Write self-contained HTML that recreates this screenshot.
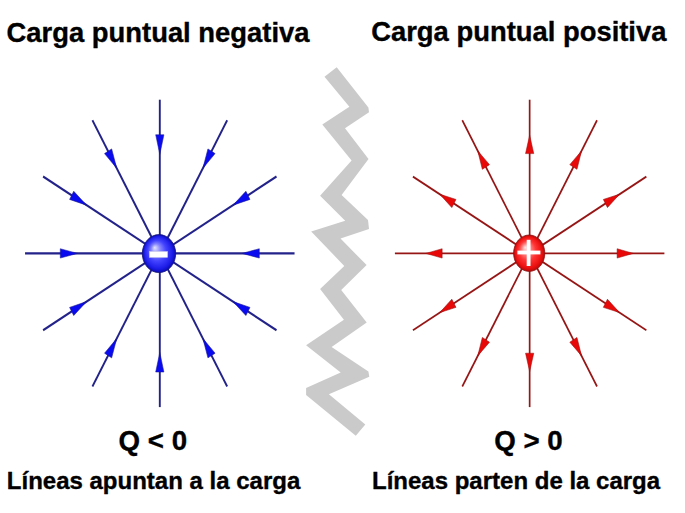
<!DOCTYPE html>
<html><head><meta charset="utf-8"><style>
html,body{margin:0;padding:0;background:#fff;}
svg{display:block;}
text{font-family:"Liberation Sans",sans-serif;font-weight:bold;fill:#000;stroke:#000;stroke-width:0.35px;}
</style></head><body>
<svg width="685" height="513" viewBox="0 0 685 513">
<defs>
<radialGradient id="gb" cx="0.5" cy="0.5" r="0.5" fx="0.37" fy="0.34" gradientUnits="objectBoundingBox">
<stop offset="0" stop-color="#e4e4ff"/>
<stop offset="0.28" stop-color="#8484ff"/>
<stop offset="0.55" stop-color="#4242ff"/>
<stop offset="0.85" stop-color="#1c1ce8"/>
<stop offset="1" stop-color="#0a0ab0"/>
</radialGradient>
<radialGradient id="gr" cx="0.5" cy="0.5" r="0.5" fx="0.37" fy="0.34" gradientUnits="objectBoundingBox">
<stop offset="0" stop-color="#ffe4e4"/>
<stop offset="0.28" stop-color="#ff8484"/>
<stop offset="0.55" stop-color="#ff3434"/>
<stop offset="0.85" stop-color="#ec1010"/>
<stop offset="1" stop-color="#b80808"/>
</radialGradient>
</defs>
<rect width="685" height="513" fill="#fff"/>
<polygon points="324.5,76.8 349.4,106.8 322.3,124.5 351.6,160.4 320.1,195.7 345.2,220.7 311.2,231.6 344.3,265.9 320.1,288.9 343.9,319.8 306.1,345.3 340.7,372.6 306.1,388 306.1,395 355.8,435.8 365.3,424.6 328.9,394.2 369.3,376.7 368.4,371.4 331.6,347 366.7,322.5 341.2,290 366.6,265.1 340.5,238.6 369,229 368,220 341.6,194.9 368.5,159 345,128.2 369,112.2 368.4,107.5 336.7,67.3" fill="#cacaca"/>
<g transform="translate(159.8,253.4) scale(1,1.1406)">
<g transform="rotate(0)">
<line x1="0" y1="0" x2="134.75" y2="0" stroke="#22228a" stroke-width="1.9" />
<polygon points="82.3,0 99.5,-4.1 99.5,4.1" fill="#0a0af0" stroke="#1a1a90" stroke-width="0.5" stroke-linejoin="miter"/>
</g>
<g transform="rotate(-30)">
<line x1="0" y1="0" x2="134.75" y2="0" stroke="#22228a" stroke-width="1.9" />
<polygon points="84.55,0 101.75,-4.1 101.75,4.1" fill="#0a0af0" stroke="#1a1a90" stroke-width="0.5" stroke-linejoin="miter"/>
</g>
<g transform="rotate(-60)">
<line x1="0" y1="0" x2="134.75" y2="0" stroke="#22228a" stroke-width="1.9" />
<polygon points="86.19711431702997,0 103.39711431702997,-4.1 103.39711431702997,4.1" fill="#0a0af0" stroke="#1a1a90" stroke-width="0.5" stroke-linejoin="miter"/>
</g>
<g transform="rotate(-90)">
<line x1="0" y1="0" x2="134.75" y2="0" stroke="#22228a" stroke-width="1.9" />
<polygon points="86.8,0 104.0,-4.1 104.0,4.1" fill="#0a0af0" stroke="#1a1a90" stroke-width="0.5" stroke-linejoin="miter"/>
</g>
<g transform="rotate(-120)">
<line x1="0" y1="0" x2="134.75" y2="0" stroke="#22228a" stroke-width="1.9" />
<polygon points="86.19711431702997,0 103.39711431702997,-4.1 103.39711431702997,4.1" fill="#0a0af0" stroke="#1a1a90" stroke-width="0.5" stroke-linejoin="miter"/>
</g>
<g transform="rotate(-150)">
<line x1="0" y1="0" x2="134.75" y2="0" stroke="#22228a" stroke-width="1.9" />
<polygon points="84.55,0 101.75,-4.1 101.75,4.1" fill="#0a0af0" stroke="#1a1a90" stroke-width="0.5" stroke-linejoin="miter"/>
</g>
<g transform="rotate(-180)">
<line x1="0" y1="0" x2="134.75" y2="0" stroke="#22228a" stroke-width="1.9" />
<polygon points="82.3,0 99.5,-4.1 99.5,4.1" fill="#0a0af0" stroke="#1a1a90" stroke-width="0.5" stroke-linejoin="miter"/>
</g>
<g transform="rotate(-210)">
<line x1="0" y1="0" x2="134.75" y2="0" stroke="#22228a" stroke-width="1.9" />
<polygon points="84.55,0 101.75,-4.1 101.75,4.1" fill="#0a0af0" stroke="#1a1a90" stroke-width="0.5" stroke-linejoin="miter"/>
</g>
<g transform="rotate(-240)">
<line x1="0" y1="0" x2="134.75" y2="0" stroke="#22228a" stroke-width="1.9" />
<polygon points="86.19711431702997,0 103.39711431702997,-4.1 103.39711431702997,4.1" fill="#0a0af0" stroke="#1a1a90" stroke-width="0.5" stroke-linejoin="miter"/>
</g>
<g transform="rotate(-270)">
<line x1="0" y1="0" x2="134.75" y2="0" stroke="#22228a" stroke-width="1.9" />
<polygon points="86.8,0 104.0,-4.1 104.0,4.1" fill="#0a0af0" stroke="#1a1a90" stroke-width="0.5" stroke-linejoin="miter"/>
</g>
<g transform="rotate(-300)">
<line x1="0" y1="0" x2="134.75" y2="0" stroke="#22228a" stroke-width="1.9" />
<polygon points="86.19711431702997,0 103.39711431702997,-4.1 103.39711431702997,4.1" fill="#0a0af0" stroke="#1a1a90" stroke-width="0.5" stroke-linejoin="miter"/>
</g>
<g transform="rotate(-330)">
<line x1="0" y1="0" x2="134.75" y2="0" stroke="#22228a" stroke-width="1.9" />
<polygon points="84.55,0 101.75,-4.1 101.75,4.1" fill="#0a0af0" stroke="#1a1a90" stroke-width="0.5" stroke-linejoin="miter"/>
</g>
</g>
<g transform="translate(529.65,253.4) scale(1,1.1406)">
<g transform="rotate(0)">
<line x1="0" y1="0" x2="134.75" y2="0" stroke="#961616" stroke-width="1.7" />
<polygon points="103.7,0 87.5,-4.1 87.5,4.1" fill="#e80808" stroke="#9a1010" stroke-width="0.5" stroke-linejoin="miter"/>
</g>
<g transform="rotate(-30)">
<line x1="0" y1="0" x2="134.75" y2="0" stroke="#961616" stroke-width="1.7" />
<polygon points="103.7,0 87.5,-4.1 87.5,4.1" fill="#e80808" stroke="#9a1010" stroke-width="0.5" stroke-linejoin="miter"/>
</g>
<g transform="rotate(-60)">
<line x1="0" y1="0" x2="134.75" y2="0" stroke="#961616" stroke-width="1.7" />
<polygon points="103.7,0 87.5,-4.1 87.5,4.1" fill="#e80808" stroke="#9a1010" stroke-width="0.5" stroke-linejoin="miter"/>
</g>
<g transform="rotate(-90)">
<line x1="0" y1="0" x2="134.75" y2="0" stroke="#961616" stroke-width="1.7" />
<polygon points="103.7,0 87.5,-4.1 87.5,4.1" fill="#e80808" stroke="#9a1010" stroke-width="0.5" stroke-linejoin="miter"/>
</g>
<g transform="rotate(-120)">
<line x1="0" y1="0" x2="134.75" y2="0" stroke="#961616" stroke-width="1.7" />
<polygon points="103.7,0 87.5,-4.1 87.5,4.1" fill="#e80808" stroke="#9a1010" stroke-width="0.5" stroke-linejoin="miter"/>
</g>
<g transform="rotate(-150)">
<line x1="0" y1="0" x2="134.75" y2="0" stroke="#961616" stroke-width="1.7" />
<polygon points="103.7,0 87.5,-4.1 87.5,4.1" fill="#e80808" stroke="#9a1010" stroke-width="0.5" stroke-linejoin="miter"/>
</g>
<g transform="rotate(-180)">
<line x1="0" y1="0" x2="134.75" y2="0" stroke="#961616" stroke-width="1.7" />
<polygon points="103.7,0 87.5,-4.1 87.5,4.1" fill="#e80808" stroke="#9a1010" stroke-width="0.5" stroke-linejoin="miter"/>
</g>
<g transform="rotate(-210)">
<line x1="0" y1="0" x2="134.75" y2="0" stroke="#961616" stroke-width="1.7" />
<polygon points="103.7,0 87.5,-4.1 87.5,4.1" fill="#e80808" stroke="#9a1010" stroke-width="0.5" stroke-linejoin="miter"/>
</g>
<g transform="rotate(-240)">
<line x1="0" y1="0" x2="134.75" y2="0" stroke="#961616" stroke-width="1.7" />
<polygon points="103.7,0 87.5,-4.1 87.5,4.1" fill="#e80808" stroke="#9a1010" stroke-width="0.5" stroke-linejoin="miter"/>
</g>
<g transform="rotate(-270)">
<line x1="0" y1="0" x2="134.75" y2="0" stroke="#961616" stroke-width="1.7" />
<polygon points="103.7,0 87.5,-4.1 87.5,4.1" fill="#e80808" stroke="#9a1010" stroke-width="0.5" stroke-linejoin="miter"/>
</g>
<g transform="rotate(-300)">
<line x1="0" y1="0" x2="134.75" y2="0" stroke="#961616" stroke-width="1.7" />
<polygon points="103.7,0 87.5,-4.1 87.5,4.1" fill="#e80808" stroke="#9a1010" stroke-width="0.5" stroke-linejoin="miter"/>
</g>
<g transform="rotate(-330)">
<line x1="0" y1="0" x2="134.75" y2="0" stroke="#961616" stroke-width="1.7" />
<polygon points="103.7,0 87.5,-4.1 87.5,4.1" fill="#e80808" stroke="#9a1010" stroke-width="0.5" stroke-linejoin="miter"/>
</g>
</g>
<ellipse cx="159.0" cy="253.6" rx="16.7" ry="19.0" fill="url(#gb)" stroke="#14147a" stroke-width="0.8"/>
<rect x="149.4" y="251.5" width="18.2" height="5.9" fill="#fff" stroke="#c8c8e8" stroke-width="0.5"/>
<ellipse cx="529.2" cy="253.2" rx="15.6" ry="18.2" fill="url(#gr)" stroke="#8a1010" stroke-width="0.8"/>
<rect x="517.4" y="250.6" width="23" height="3.8" fill="#fff"/>
<rect x="526.7" y="239.8" width="3.8" height="26.2" fill="#fff"/>
<text x="6.6" y="42.3" font-size="27.4">Carga puntual negativa</text>
<text x="371.2" y="41.1" font-size="27.4">Carga puntual positiva</text>
<text x="118.6" y="450.2" font-size="27.7">Q &lt; 0</text>
<text x="494.2" y="450.2" font-size="27.7">Q &gt; 0</text>
<text x="6.8" y="488.9" font-size="24.0">Líneas apuntan a la carga</text>
<text x="372.0" y="488.9" font-size="24.0">Líneas parten de la carga</text>
</svg>
</body></html>
